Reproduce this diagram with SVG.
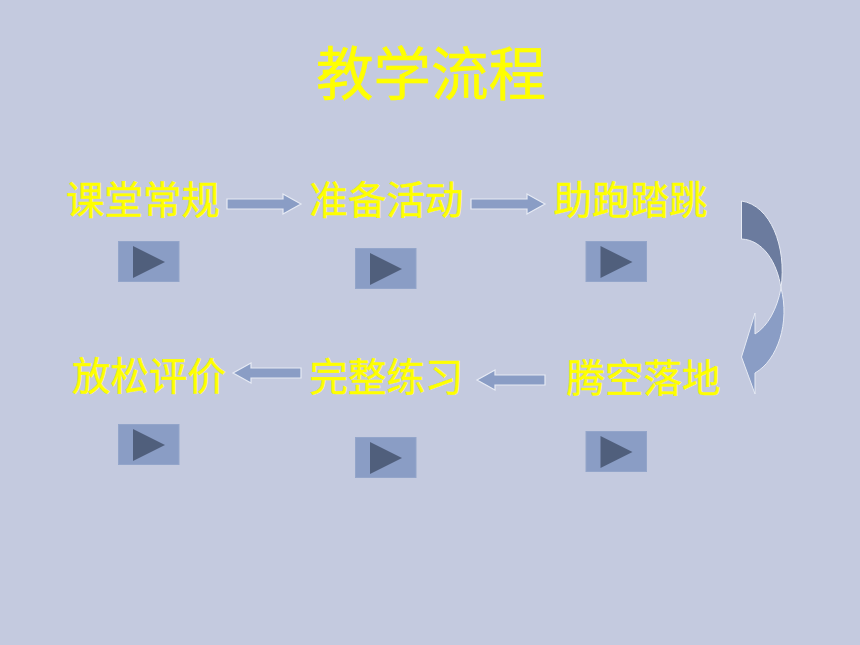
<svg xmlns="http://www.w3.org/2000/svg" width="860" height="645" viewBox="0 0 860 645">
<style>
text{font-family:"Noto Sans CJK SC","Noto Sans CJK JP",sans-serif;fill:#ffff00;stroke:#ffff00;stroke-width:.5;text-anchor:middle}
.t{font-size:38.5px}
.a{fill:#8a9dc5;stroke:#e6eaf4;stroke-width:1.2}
.b{fill:#8a9dc5;stroke:#93a5ca;stroke-width:1}
.p{fill:#505f7c}
</style>
<defs>
<g id="btn"><rect class="b" x="0.5" y="0.5" width="60.5" height="40"/><polygon class="p" points="15,5 47,21 15,37"/></g>
</defs>
<rect width="860" height="645" fill="#c4cadf"/>
<g id="title"><text x="431" y="95" font-size="57.5">教学流程</text></g>
<g id="connectors">
<polygon class="a" points="227,199 283,199 283,194 301,204 283,214 283,209 227,209"/>
<polygon class="a" points="471,199 527,199 527,194 545,204 527,214 527,209 471,209"/>
<polygon class="a" points="301,368 251,368 251,363 233,373 251,383 251,378 301,378"/>
<polygon class="a" points="545,375 495,375 495,370 477,380 495,390 495,385 545,385"/>
<path d="M781,288C790,322 778,360 755,373L755,394L741.5,357L755,313L755,334C768,326 777,309 781,288Z" fill="#8a9dc5" stroke="#e6eaf4" stroke-width="1"/>
<path d="M741.5,201C770,205 787,246 781,288C777,262 763,240 741.5,239Z" fill="#6b7b9e" stroke="#e6eaf4" stroke-width="1"/>
</g>
<g id="n1"><text class="t" x="143" y="214">课堂常规</text><use href="#btn" x="118" y="241"/></g>
<g id="n2"><text class="t" x="386.5" y="214">准备活动</text><use href="#btn" x="355" y="248"/></g>
<g id="n3"><text class="t" x="630.5" y="214">助跑踏跳</text><use href="#btn" x="585.5" y="241"/></g>
<g id="n4"><text class="t" x="643.5" y="392">腾空落地</text><use href="#btn" x="585.5" y="431"/></g>
<g id="n5"><text class="t" x="386.5" y="391">完整练习</text><use href="#btn" x="355" y="437"/></g>
<g id="n6"><text class="t" x="149" y="390">放松评价</text><use href="#btn" x="118" y="424"/></g>
</svg>
